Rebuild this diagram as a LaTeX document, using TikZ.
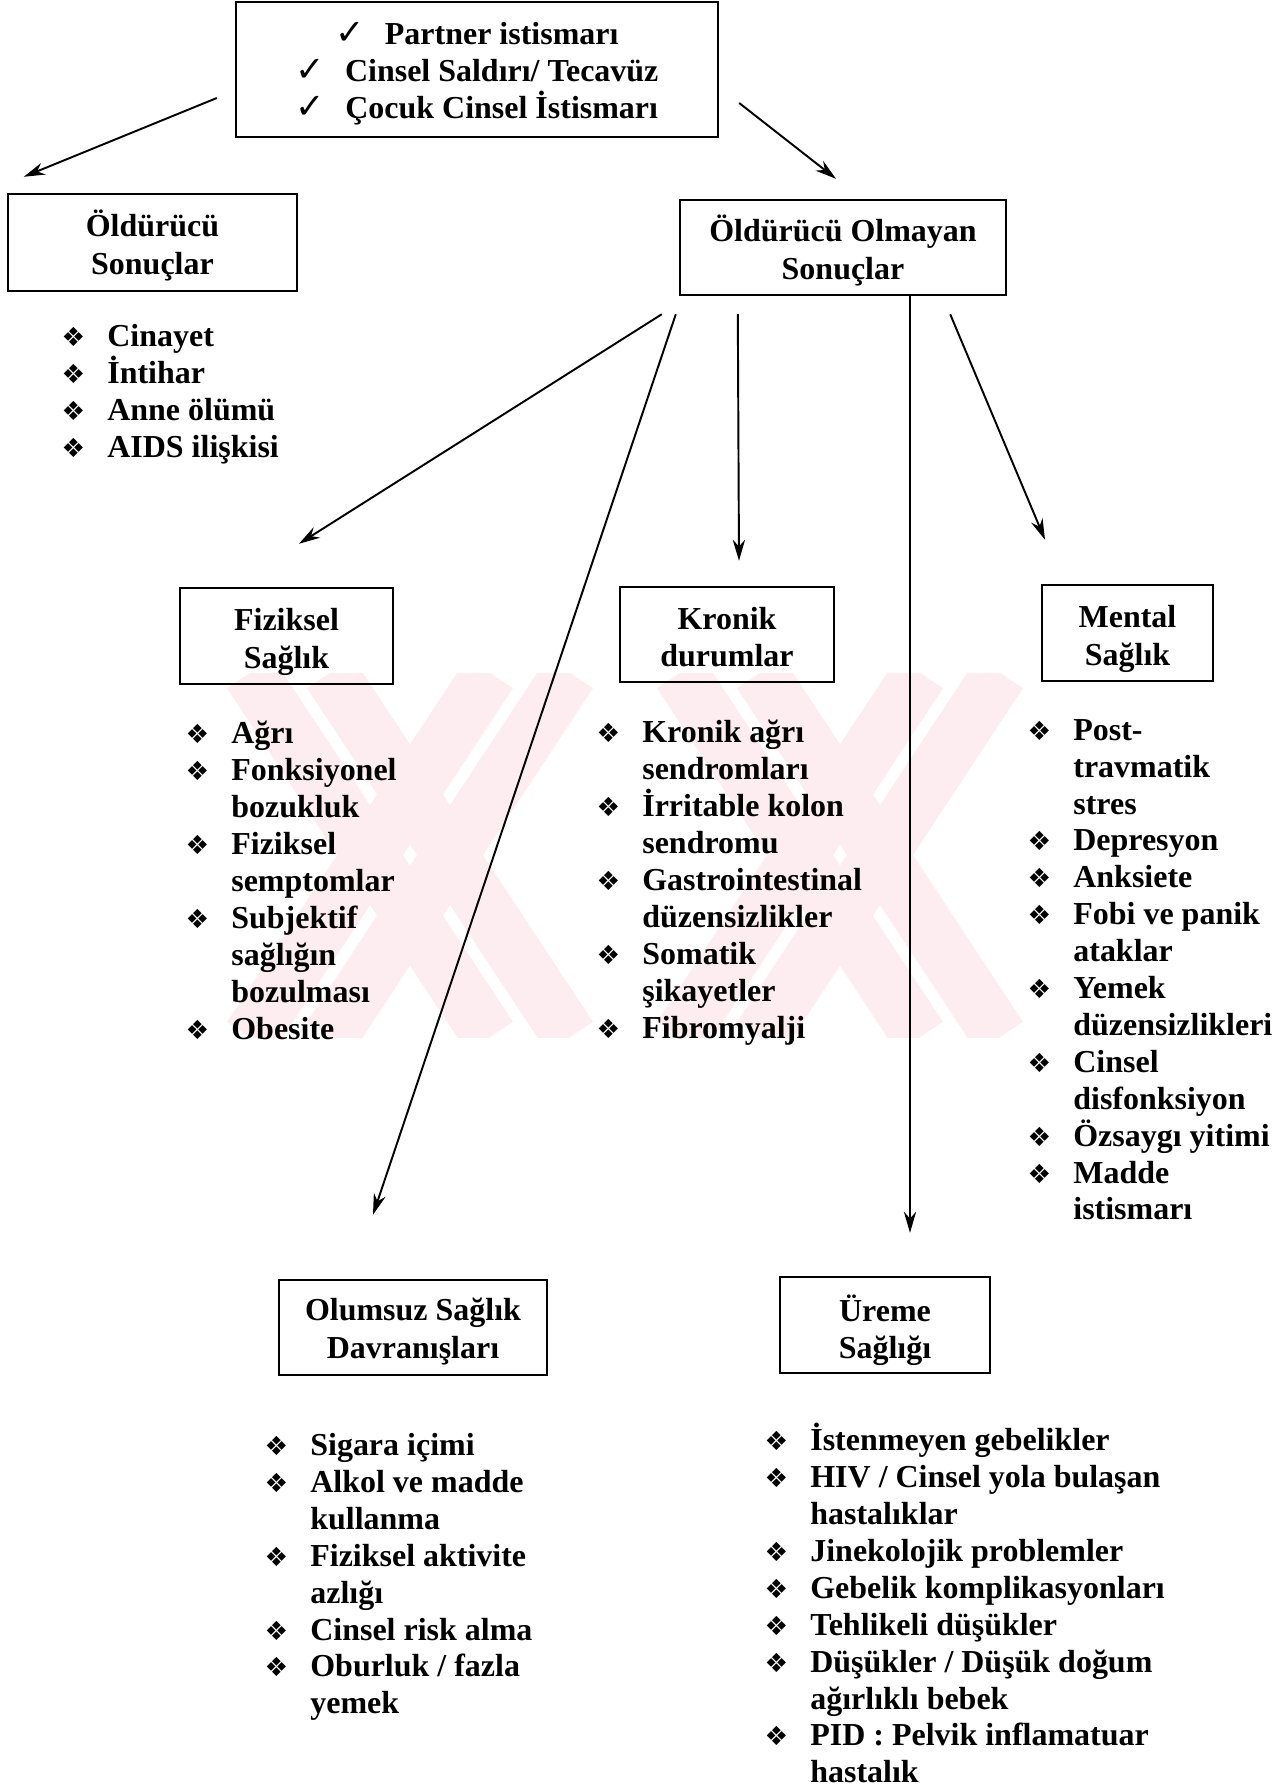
\documentclass[tikz,border=0pt]{standalone}
\usepackage{fontspec}
\setmainfont{Liberation Serif}[BoldFont={Liberation Serif Bold}]
\newfontfamily\symfont{DejaVu Sans}[BoldFont={DejaVu Sans Bold}]
\usetikzlibrary{arrows.meta}
\definecolor{wmpink}{RGB}{253,236,240}
\newcommand{\blt}{\llap{{\symfont\fontsize{15}{15}\selectfont ❖}\hspace{0.44cm}}}
\newcommand{\chk}{{\symfont\fontsize{20}{20}\selectfont ✓}\hspace{0.4cm}}
\tikzset{
  box/.style={draw, line width=1.4pt, inner sep=0pt, align=center, font=\bfseries\fontsize{18.2}{21.5}\selectfont},
  list/.style={anchor=north west, inner sep=0pt, align=left, font=\bfseries\fontsize{18.2}{21}\selectfont, execute at begin node=\strut},
  arr/.style={line width=1.1pt, -{Stealth[length=12pt,width=7pt]}},
  wmband/.style={wmpink, line width=1.1cm}
}
\begin{document}
\begin{tikzpicture}[x=0.02cm, y=-0.02cm]
\useasboundingbox (0,0) rectangle (1283,1788);
% watermark
\begin{scope}
\clip (193,673) rectangle (1060,1037);
\draw[wmband] (250,673) -- (490,1037) (330,673) -- (570,1037) (490,673) -- (250,1037) (570,673) -- (330,1037);
\draw[wmband] (680,673) -- (920,1037) (760,673) -- (1000,1037) (920,673) -- (680,1037) (1000,673) -- (760,1037);
\end{scope}
% boxes
\node[box, font=\bfseries\fontsize{18.2}{21}\selectfont, minimum width=9.64cm, minimum height=2.70cm] (top) at (477,69.5) {\rule{0pt}{17.5pt}\chk Partner istismarı\\ \chk Cinsel Saldırı/ Tecavüz\\ \chk Çocuk Cinsel İstismarı};
\node[box, minimum width=5.78cm, minimum height=1.94cm] (fatal) at (152.5,242.5) {\rule{0pt}{18.2pt}Öldürücü\\Sonuçlar};
\node[box, minimum width=6.52cm, minimum height=1.90cm] (nonfatal) at (843,247.5) {\rule{0pt}{18.8pt}Öldürücü Olmayan\\Sonuçlar};
\node[box, minimum width=4.26cm, minimum height=1.92cm] (fiz) at (286.5,636) {\rule{0pt}{19pt}Fiziksel\\Sağlık};
\node[box, minimum width=4.28cm, minimum height=1.90cm] (kronik) at (727,634.5) {\rule{0pt}{15.5pt}Kronik\\durumlar};
\node[box, minimum width=3.42cm, minimum height=1.92cm] (mental) at (1127.5,633) {\rule{0pt}{19.6pt}Mental\\Sağlık};
\node[box, minimum width=5.36cm, minimum height=1.90cm] (olumsuz) at (413,1327.5) {\rule{0pt}{17pt}Olumsuz Sağlık\\Davranışları};
\node[box, minimum width=4.20cm, minimum height=1.92cm] (ureme) at (885,1325) {\rule{0pt}{21pt}Üreme\\Sağlığı};
% lists
\node[list] (fatallist) at (107,324) {\blt Cinayet\\ \blt İntihar\\ \blt Anne ölümü\\ \blt AIDS ilişkisi};
\node[list] (fizlist) at (231,721) {\blt Ağrı\\ \blt Fonksiyonel\\ bozukluk\\ \blt Fiziksel\\ semptomlar\\ \blt Subjektif\\ sağlığın\\ bozulması\\ \blt Obesite};
\node[list] (kroniklist) at (642,720) {\blt Kronik ağrı\\ sendromları\\ \blt İrritable kolon\\ sendromu\\ \blt Gastrointestinal\\ düzensizlikler\\ \blt Somatik\\ şikayetler\\ \blt Fibromyalji};
\node[list] (mentallist) at (1073,719) {\blt Post-\\ travmatik\\ stres\\ \blt Depresyon\\ \blt Anksiete\\ \blt Fobi ve panik\\ ataklar\\ \blt Yemek\\ düzensizlikleri\\ \blt Cinsel\\ disfonksiyon\\ \blt Özsaygı yitimi\\ \blt Madde\\ istismarı};
\node[list] (olumsuzlist) at (310,1433) {\blt Sigara içimi\\ \blt Alkol ve madde\\ kullanma\\ \blt Fiziksel aktivite\\ azlığı\\ \blt Cinsel risk alma\\ \blt Oburluk / fazla\\ yemek};
\node[list] (uremelist) at (810,1423) {\blt İstenmeyen gebelikler\\ \blt HIV / Cinsel yola bulaşan\\ hastalıklar\\ \blt Jinekolojik problemler\\ \blt Gebelik komplikasyonları\\ \blt Tehlikeli düşükler\\ \blt Düşükler / Düşük doğum\\ ağırlıklı bebek\\ \blt PID : Pelvik inflamatuar\\ hastalık};
% arrows
\draw[arr] ([shift={(-18,28.5)}]top.west) -- ([shift={(17,-16)}]fatal.north west);
\draw[arr] ([shift={(20,33.5)}]top.east) -- ([shift={(-7,-20)}]nonfatal.north);
\draw[arr] ([shift={(-17,18)}]nonfatal.south west) -- ([shift={(12.5,-43)}]fiz.north);
\draw[arr] ([shift={(-3,18)}]nonfatal.south west) -- ([shift={(-40,-64)}]olumsuz.north);
\draw[arr] ([shift={(59,18)}]nonfatal.south west) -- ([shift={(12,-25)}]kronik.north);
\draw[arr] ([shift={(67,0)}]nonfatal.south) -- ([shift={(25,-43)}]ureme.north);
\draw[arr] ([shift={(-57,18)}]nonfatal.south east) -- ([shift={(-82.5,-44)}]mental.north);
\end{tikzpicture}
\end{document}
